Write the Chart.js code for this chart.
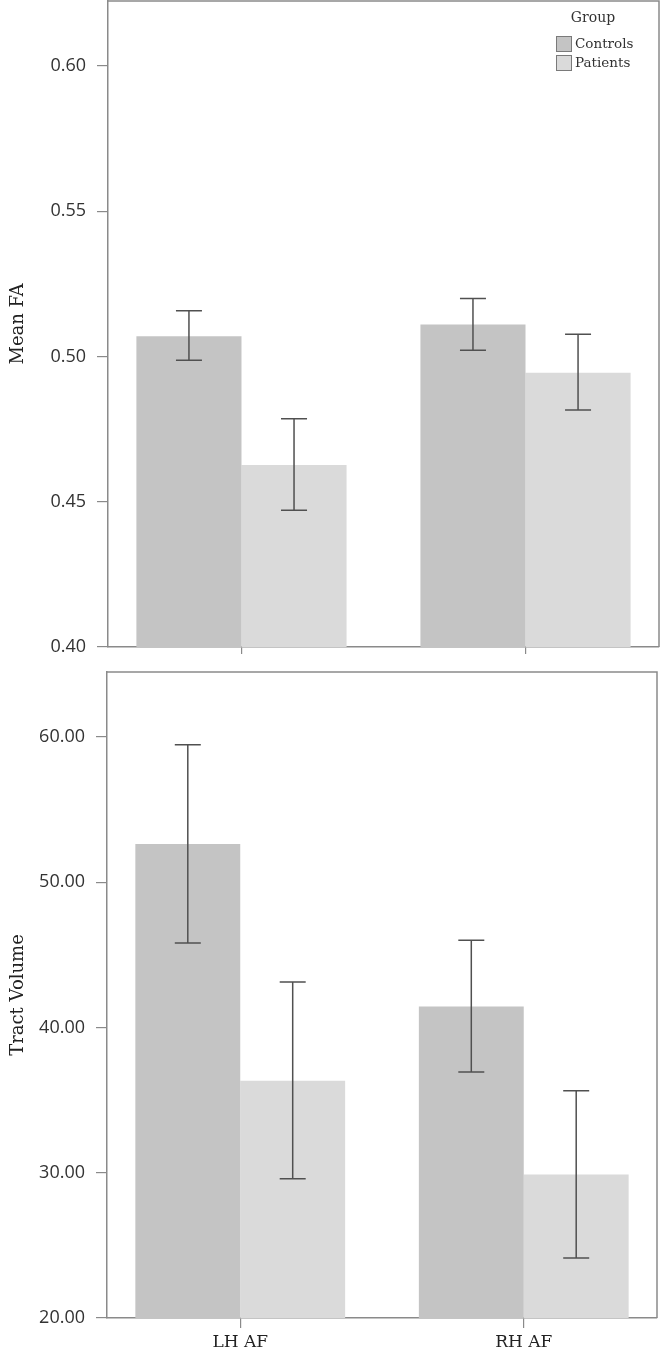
<!DOCTYPE html>
<html lang="en">

<head>
   <meta charset="UTF-8">
   <title>Mean FA and Tract Volume</title>
   <script src="https://cdn.jsdelivr.net/npm/chart.js@4/dist/chart.umd.min.js"></script>
   <style>
      body { margin: 0; background: #fff; }
      .chart-container { position: relative; width: 660px; }
      #topBox { height: 662px; }
      #bottomBox { height: 691px; }
   </style>
</head>

<body>
   <div class="chart-container" id="topBox"><canvas id="faChart"></canvas></div>
   <div class="chart-container" id="bottomBox"><canvas id="volChart"></canvas></div>

   <script>
      const categories = ['LH AF', 'RH AF'];
      const groupLabels = ['Controls', 'Patients'];
      const groupColors = ['#c4c4c4', '#dadada'];

      // mean FA with error bar ends
      const faControls = [0.507, 0.511];
      const faControlsLow = [0.4987, 0.5022];
      const faControlsHigh = [0.5158, 0.5200];
      const faPatients = [0.4627, 0.4944];
      const faPatientsLow = [0.4471, 0.4816];
      const faPatientsHigh = [0.4786, 0.5077];
      const faTicks = [0.40, 0.45, 0.50, 0.55, 0.60];

      // tract volume with error bar ends
      const volControls = [52.63, 41.45];
      const volControlsLow = [45.82, 36.94];
      const volControlsHigh = [59.47, 46.00];
      const volPatients = [36.34, 29.87];
      const volPatientsLow = [29.59, 24.13];
      const volPatientsHigh = [43.13, 35.65];
      const volTicks = [20, 30, 40, 50, 60];

      const lineGrey = '#8a8a8a';

      function makeDataset(i, values, low, high) {
         return {
            label: groupLabels[i],
            backgroundColor: groupColors[i],
            borderWidth: 0,
            categoryPercentage: 0.74,
            barPercentage: 1.0,
            data: values.map((v, k) => ({ x: k + 1, y: v })),
            errLow: low,
            errHigh: high
         };
      }

      const errorBars = {
         id: 'errorBars',
         afterDatasetsDraw(chart) {
            const ctx = chart.ctx;
            const y = chart.scales.y;
            ctx.save();
            ctx.strokeStyle = '#505050';
            ctx.lineWidth = 1.5;
            chart.data.datasets.forEach((ds, di) => {
               chart.getDatasetMeta(di).data.forEach((bar, k) => {
                  const top = y.getPixelForValue(ds.errHigh[k]);
                  const bot = y.getPixelForValue(ds.errLow[k]);
                  ctx.beginPath();
                  ctx.moveTo(bar.x, top); ctx.lineTo(bar.x, bot);
                  ctx.moveTo(bar.x - 13, top); ctx.lineTo(bar.x + 13, top);
                  ctx.moveTo(bar.x - 13, bot); ctx.lineTo(bar.x + 13, bot);
                  ctx.stroke();
               });
            });
            ctx.restore();
         }
      };

      // top and right sides of the plot frame
      const frame = {
         id: 'frame',
         afterDraw(chart) {
            const a = chart.chartArea;
            const ctx = chart.ctx;
            ctx.save();
            ctx.strokeStyle = lineGrey;
            ctx.lineWidth = 1.5;
            ctx.beginPath();
            ctx.moveTo(a.left, a.top); ctx.lineTo(a.right, a.top); ctx.lineTo(a.right, a.bottom);
            ctx.stroke();
            ctx.restore();
         }
      };

      const groupLegend = {
         id: 'groupLegend',
         afterDraw(chart) {
            if (!chart.options.plugins.groupLegend.show) return;
            const a = chart.chartArea;
            const ctx = chart.ctx;
            const x0 = a.right - 103;
            ctx.save();
            ctx.font = '14px "DejaVu Serif"';
            ctx.fillStyle = '#333';
            ctx.textBaseline = 'middle';
            ctx.textAlign = 'center';
            ctx.fillText('Group', x0 + 37, a.top + 17);
            ctx.font = '13.5px "DejaVu Serif"';
            ctx.textAlign = 'left';
            chart.data.datasets.forEach((ds, i) => {
               const by = a.top + 35 + i * 19;
               ctx.fillStyle = ds.backgroundColor;
               ctx.fillRect(x0, by, 15, 15);
               ctx.strokeStyle = '#7a7a7a';
               ctx.lineWidth = 1;
               ctx.strokeRect(x0 + 0.5, by + 0.5, 15, 15);
               ctx.fillStyle = '#333';
               ctx.fillText(ds.label, x0 + 19, by + 8);
            });
            ctx.restore();
         }
      };

      function makeConfig(datasets, opts) {
         return {
            type: 'bar',
            data: { datasets: datasets },
            plugins: [errorBars, frame, groupLegend],
            options: {
               responsive: true,
               maintainAspectRatio: false,
               animation: false,
               layout: { padding: { top: opts.padTop, right: opts.padRight, left: 0, bottom: 0 } },
               plugins: {
                  legend: { display: false },
                  tooltip: { enabled: false },
                  groupLegend: { show: opts.legend }
               },
               scales: {
                  x: {
                     type: 'linear',
                     offset: false,
                     min: 0.53,
                     max: 2.47,
                     afterBuildTicks: s => { s.ticks = categories.map((c, i) => ({ value: i + 1 })); },
                     afterFit: s => { s.height = opts.xHeight; s.paddingLeft = 0; s.paddingRight = 0; },
                     border: { display: true, color: lineGrey, width: 1.5 },
                     grid: { drawOnChartArea: false, drawTicks: true, tickLength: opts.xTick, color: lineGrey, lineWidth: 1.2, offset: false },
                     ticks: {
                        display: opts.xLabels,
                        autoSkip: false,
                        maxRotation: 0,
                        padding: 4,
                        color: '#222',
                        font: { family: 'DejaVu Serif', size: 17 },
                        callback: v => categories[v - 1]
                     }
                  },
                  y: {
                     min: opts.yMin,
                     max: opts.yMax,
                     afterBuildTicks: s => { s.ticks = opts.yTicks.map(v => ({ value: v })); },
                     afterFit: s => { s.width = opts.yWidth; s.paddingTop = 0; s.paddingBottom = 0; },
                     border: { display: true, color: lineGrey, width: 1.5 },
                     grid: { drawOnChartArea: false, drawTicks: true, tickLength: 11, color: lineGrey, lineWidth: 1.2 },
                     ticks: {
                        padding: 11,
                        color: '#333',
                        font: { family: 'Open Sans', size: 18 },
                        callback: v => v.toFixed(opts.decimals)
                     },
                     title: {
                        display: true,
                        text: opts.title,
                        color: '#222',
                        padding: { top: 8, bottom: 0 },
                        font: { family: 'DejaVu Serif', size: 18 }
                     }
                  }
               }
            }
         };
      }

      new Chart(document.getElementById('faChart').getContext('2d'), makeConfig(
         [makeDataset(0, faControls, faControlsLow, faControlsHigh),
          makeDataset(1, faPatients, faPatientsLow, faPatientsHigh)],
         {
            padTop: 1, padRight: 1, xHeight: 15, yWidth: 108, xTick: 7, xLabels: false,
            yMin: 0.40, yMax: 0.6224, yTicks: faTicks, decimals: 2, title: 'Mean FA', legend: true
         }));

      new Chart(document.getElementById('volChart').getContext('2d'), makeConfig(
         [makeDataset(0, volControls, volControlsLow, volControlsHigh),
          makeDataset(1, volPatients, volPatientsLow, volPatientsHigh)],
         {
            padTop: 10, padRight: 3, xHeight: 35, yWidth: 107, xTick: 10, xLabels: true,
            yMin: 20, yMax: 64.47, yTicks: volTicks, decimals: 2, title: 'Tract Volume', legend: false
         }));
   </script>
</body>

</html>
